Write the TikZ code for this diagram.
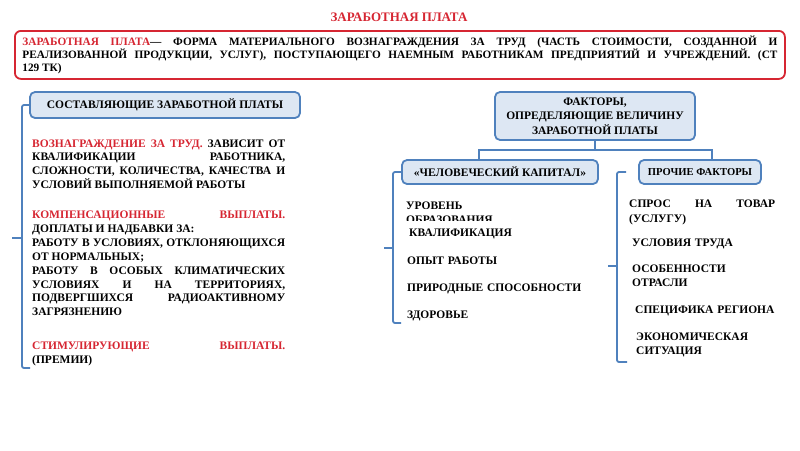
\documentclass[tikz,border=0pt]{standalone}
\usepackage{fontspec}
\setmainfont{Liberation Serif}
\usetikzlibrary{positioning, calc}
\definecolor{myred}{RGB}{214,38,50}
\definecolor{myblue}{RGB}{79,129,189}
\definecolor{hdrblue}{RGB}{221,231,243}
\hyphenpenalty=10000
\exhyphenpenalty=10000
\tikzset{
  hdrbox/.style={rectangle, draw=myblue, fill=hdrblue, align=center, font=\bfseries\fontsize{11.5}{14}\selectfont, rounded corners=5pt, line width=1.8pt, inner sep=2pt},
  defbox/.style={rectangle, draw=myred, fill=white, text width=755pt, align=justify, font=\bfseries\fontsize{11.3}{12.8}\selectfont, rounded corners=6pt, line width=1.8pt, inner xsep=7.5pt, inner ysep=3pt},
  bodytext/.style={anchor=base west, align=justify, inner sep=0pt, font=\bfseries\fontsize{11.5}{13.9}\selectfont},
  item/.style={anchor=base west, align=left, text width=180pt, inner sep=0pt, font=\bfseries\fontsize{11.5}{14.5}\selectfont},
  bracket/.style={draw=myblue, line width=1.8pt, rounded corners=2pt},
  link/.style={draw=myblue, line width=2.2pt}
}

\begin{document}
\begin{tikzpicture}[x=1pt, y=-1pt]
  \useasboundingbox (0,0) rectangle (800,450);
  % Title and definition
  \node[text=myred, font=\bfseries\fontsize{13}{13}\selectfont] (title) at (399,17) {ЗАРАБОТНАЯ ПЛАТА};
  \node[defbox, minimum height=48pt, anchor=north west] (defn) at (14,30) {{\color{myred}ЗАРАБОТНАЯ ПЛАТА}--- ФОРМА МАТЕРИАЛЬНОГО ВОЗНАГРАЖДЕНИЯ ЗА ТРУД (ЧАСТЬ СТОИМОСТИ, СОЗДАННОЙ И\linebreak РЕАЛИЗОВАННОЙ ПРОДУКЦИИ, УСЛУГ), ПОСТУПАЮЩЕГО НАЕМНЫМ РАБОТНИКАМ ПРЕДПРИЯТИЙ И УЧРЕЖДЕНИЙ. (СТ\linebreak 129 ТК)};

  % Components (left)
  \node[hdrbox, minimum width=270pt, minimum height=26pt] (compH) at (165,105) {СОСТАВЛЯЮЩИЕ ЗАРАБОТНОЙ ПЛАТЫ};
  \draw[bracket] (compH.west) -| (22,368) -- (30,368);
  \draw[bracket] (22,238) -- (12,238);

  \node[bodytext, text width=253pt] (pay) at (32,147) {{\color{myred}ВОЗНАГРАЖДЕНИЕ ЗА ТРУД.} ЗАВИСИТ ОТ\linebreak КВАЛИФИКАЦИИ РАБОТНИКА,\linebreak СЛОЖНОСТИ, КОЛИЧЕСТВА, КАЧЕСТВА И\linebreak УСЛОВИЙ ВЫПОЛНЯЕМОЙ РАБОТЫ};
  \node[bodytext, text width=253pt] (comp) at (32,218.5) {{\color{myred}КОМПЕНСАЦИОННЫЕ ВЫПЛАТЫ.}\linebreak ДОПЛАТЫ И НАДБАВКИ ЗА:\\ РАБОТУ В УСЛОВИЯХ, ОТКЛОНЯЮЩИХСЯ\linebreak ОТ НОРМАЛЬНЫХ;\\ РАБОТУ В ОСОБЫХ КЛИМАТИЧЕСКИХ\linebreak УСЛОВИЯХ И НА ТЕРРИТОРИЯХ,\linebreak ПОДВЕРГШИХСЯ РАДИОАКТИВНОМУ\linebreak ЗАГРЯЗНЕНИЮ};
  \node[bodytext, text width=253pt] (stim) at (32,349.5) {{\color{myred}СТИМУЛИРУЮЩИЕ ВЫПЛАТЫ.}\linebreak (ПРЕМИИ)};

  % Factors (right)
  \node[hdrbox, minimum width=200pt, minimum height=48pt, font=\bfseries\fontsize{11.5}{14.5}\selectfont] (factH) at (595,116) {ФАКТОРЫ,\\ ОПРЕДЕЛЯЮЩИЕ ВЕЛИЧИНУ\\ ЗАРАБОТНОЙ ПЛАТЫ};
  \node[hdrbox, minimum width=196pt, minimum height=24pt] (humH) at (500,172) {«ЧЕЛОВЕЧЕСКИЙ КАПИТАЛ»};
  \node[hdrbox, minimum width=122pt, minimum height=24pt, font=\bfseries\fontsize{10.6}{14}\selectfont] (othH) at (700,172) {ПРОЧИЕ ФАКТОРЫ};
  \coordinate (fork) at ($(factH.south)+(0,9)$);
  \draw[link] (factH.south) -- (fork);
  \draw[link] (fork) -| ([xshift=-21pt]humH.north);
  \draw[link] (fork) -| ([xshift=12pt]othH.north);

  % Human capital list
  \draw[bracket] (humH.west) -| (393,323) -- (401,323);
  \draw[bracket] (393,248) -- (384,248);
  \node[item] (edu) at (406,209) {УРОВЕНЬ\\ ОБРАЗОВАНИЯ};
  \node[item, text width=, fill=white, text height=15pt, inner xsep=4pt] (qual) at (405,236) {КВАЛИФИКАЦИЯ};
  \node[item] (exp) at (407,264) {ОПЫТ РАБОТЫ};
  \node[item] (abil) at (407,291) {ПРИРОДНЫЕ СПОСОБНОСТИ};
  \node[item] (health) at (407,318) {ЗДОРОВЬЕ};

  % Other factors list
  \coordinate (othTop) at (626,172);
  \draw[bracket] (othTop) -| (617,362) -- (627,362);
  \draw[bracket] (617,266) -- (608,266);
  \node[bodytext, text width=146pt, font=\bfseries\fontsize{11.5}{15}\selectfont] (dem) at (629,207) {СПРОС НА ТОВАР\linebreak (УСЛУГУ)};
  \node[item] (work) at (632,246) {УСЛОВИЯ ТРУДА};
  \node[item] (ind) at (632,272) {ОСОБЕННОСТИ\\ ОТРАСЛИ};
  \node[item] (reg) at (635,313) {СПЕЦИФИКА РЕГИОНА};
  \node[item] (econ) at (636,340) {ЭКОНОМИЧЕСКАЯ\\ СИТУАЦИЯ};
\end{tikzpicture}
\end{document}
